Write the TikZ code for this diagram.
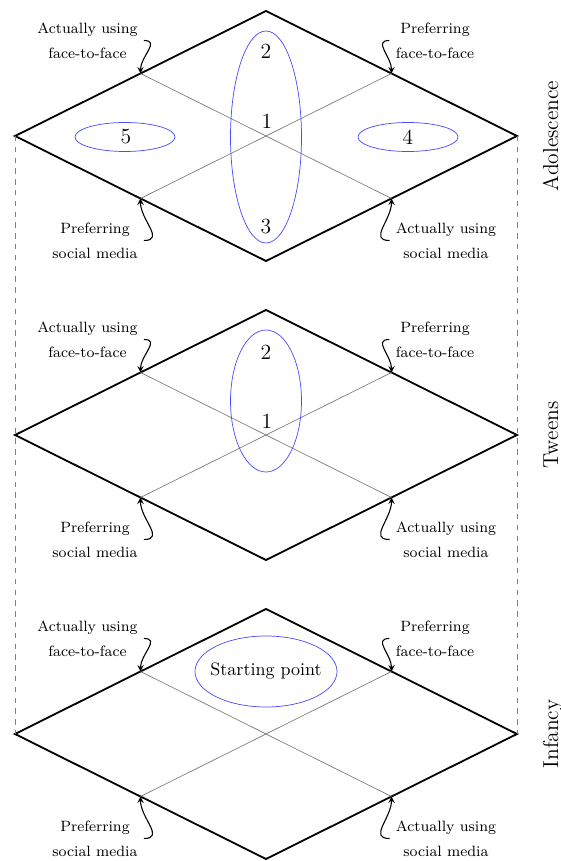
\documentclass[tikz,border=0pt]{standalone}
\tikzset{
	rim/.style={line width=1pt},
	split/.style={gray},
	zone/.style={blue!70},
	lbl/.style={font=\fontsize{8.3}{10}\selectfont, align=center},
	pointer/.style={semithick,-stealth},
	stage/.style={font=\large, rotate=90, anchor=base},
	num/.style={font=\large},
}
\begin{document}
\begin{tikzpicture}[x=0.5556pt,y=0.5556pt]
		\useasboundingbox (0,0) rectangle (560,861);
		% the three layers
		\foreach \l/\yc/\stagename in {ado/725/Adolescence, twe/426/Tweens, inf/127/Infancy} {
			\coordinate (\l-n) at (266,\yc+125);
			\coordinate (\l-s) at (266,\yc-125);
			\coordinate (\l-w) at (15,\yc);
			\coordinate (\l-e) at (517,\yc);
			\coordinate (\l-nw) at (140.5,\yc+62.5);
			\coordinate (\l-ne) at (391.5,\yc+62.5);
			\coordinate (\l-sw) at (140.5,\yc-62.5);
			\coordinate (\l-se) at (391.5,\yc-62.5);
			\draw[rim] (\l-n) -- (\l-e) -- (\l-s) -- (\l-w) -- cycle;
			\draw[split] (\l-nw) -- (\l-se);
			\draw[split] (\l-ne) -- (\l-sw);
			\node[lbl] (\l-tl) at (87.5,\yc+95.5) {Actually using\\[4pt]face-to-face};
			\node[lbl] (\l-tr) at (435,\yc+95.5) {Preferring\\[4pt]face-to-face};
			\node[lbl] (\l-bl) at (95,\yc-104.5) {Preferring\\[4pt]social media};
			\node[lbl] (\l-br) at (446,\yc-104.5) {Actually using\\[4pt]social media};
			\draw[pointer] (\l-tl.east) to[out=0,in=90,looseness=1.3] (\l-nw);
			\draw[pointer] (\l-tr.west) to[out=180,in=90,looseness=1.3] (\l-ne);
			\draw[pointer] (\l-bl.east) to[out=0,in=-90,looseness=1.3] (\l-sw);
			\draw[pointer] (\l-br.west) to[out=180,in=-90,looseness=1.3] (\l-se);
			\node[stage] (\l-name) at (558,\yc) {\stagename};
		}
		\draw[gray,dashed] (ado-w) -- (inf-w);
		\draw[gray,dashed] (ado-e) -- (inf-e);
		% adolescence
		\draw[zone] (266,724) ellipse (35.5 and 106);
		\draw[zone] (125,724) ellipse (50 and 14.5);
		\draw[zone] (408,724) ellipse (50 and 14.5);
		\node[num] (ado-two) at (266,810) {2};
		\node[num] (ado-one) at (267,740) {1};
		\node[num] (ado-three) at (266,634) {3};
		\node[num] (ado-five) at (126,724) {5};
		\node[num] (ado-four) at (408,724) {4};
		% tweens
		\draw[zone] (266,460) ellipse (35.5 and 71);
		\node[num] (twe-two) at (266,509) {2};
		\node[num] (twe-one) at (267,440) {1};
		% infancy
		\draw[zone] (266,189.5) ellipse (71 and 35.5);
		\node (inf-start) at (266,190) {Starting point};
	\end{tikzpicture}
\end{document}
